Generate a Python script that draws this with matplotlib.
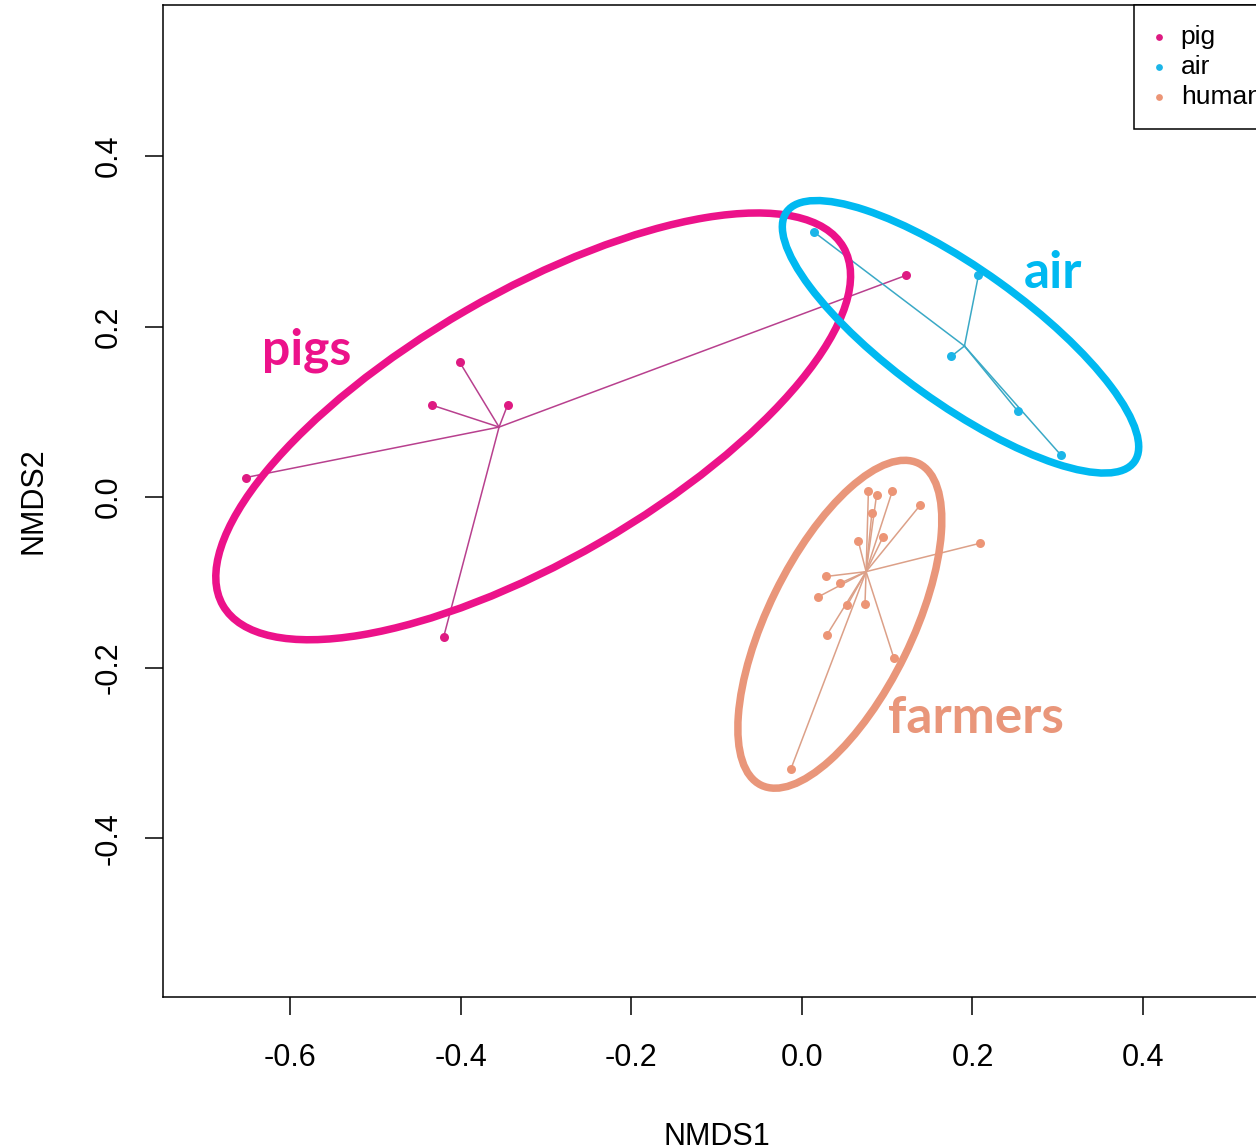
import matplotlib
matplotlib.use("Agg")
import matplotlib.pyplot as plt
from matplotlib.patches import Ellipse
import numpy as np

plt.rcParams['font.family'] = ['Liberation Sans', 'DejaVu Sans']
plt.rcParams['axes.unicode_minus'] = False

# --- data ---
pig_x = [-0.652, -0.434, -0.401, -0.345, -0.420, 0.122]
pig_y = [0.023, 0.108, 0.158, 0.108, -0.164, 0.260]

air_x = [0.014, 0.207, 0.175, 0.253, 0.304]
air_y = [0.311, 0.260, 0.165, 0.101, 0.049]

human_x = [0.078, 0.0875, 0.106, 0.139, 0.082, 0.066, 0.095, 0.209,
           0.028, 0.0445, 0.019, 0.053, 0.074, 0.029, 0.108, -0.013]
human_y = [0.007, 0.002, 0.007, -0.009, -0.019, -0.051, -0.047, -0.054,
           -0.093, -0.101, -0.117, -0.127, -0.125, -0.162, -0.189, -0.319]

group_labels = ["pig", "air", "human"]
annot_labels = ["pigs", "air", "farmers"]

# hand-drawn ellipses: centre x, centre y, width, height, angle
ell_pig = [-0.315, 0.083, 0.840, 0.314, 30.0]
ell_air = [0.186, 0.188, 0.502, 0.157, -35.7]
ell_human = [0.0445, -0.149, 0.420, 0.169, 63.9]

x_ticks = [-0.6, -0.4, -0.2, 0.0, 0.2, 0.4]
y_ticks = [-0.4, -0.2, 0.0, 0.2, 0.4]

# styles
pt_cols = ["#DE1A82", "#1BB5E8", "#EC9576"]
ln_cols = ["#B8408E", "#3AA9C6", "#DCA088"]
ell_cols = ["#EC128A", "#00B9F1", "#E9967A"]

W, H = 1256, 1148
fig = plt.figure(figsize=(W / 100, H / 100), dpi=100)
ax_l, ax_r, ax_t, ax_b = 163, 1271, 5, 997
ax = fig.add_axes([ax_l / W, (H - ax_b) / H, (ax_r - ax_l) / W, (ax_b - ax_t) / H])
ax.set_xlim(-0.749, 0.550)
ax.set_ylim(-0.586, 0.577)

groups = [(pig_x, pig_y), (air_x, air_y), (human_x, human_y)]
for (gx, gy), pc, lc, lab in zip(groups, pt_cols, ln_cols, group_labels):
    gx = np.asarray(gx); gy = np.asarray(gy)
    cx, cy = gx.mean(), gy.mean()
    for xi, yi in zip(gx, gy):
        ax.plot([cx, xi], [cy, yi], color=lc, lw=1.1, zorder=2)
    ax.scatter(gx, gy, s=42, color=pc, zorder=3, linewidths=0)
    ax.scatter([], [], s=24, color=pc, label=lab, linewidths=0)

for e, c in zip([ell_pig, ell_air, ell_human], ell_cols):
    ax.add_patch(Ellipse((e[0], e[1]), e[2], e[3], angle=e[4], fill=False,
                         edgecolor=c, lw=5.4, zorder=4))

# annotation labels
afont = ['Lato', 'DejaVu Sans']
ax.text(-0.633, 0.155, annot_labels[0], color=ell_cols[0], fontsize=36,
        fontweight='bold', family=afont, ha='left', va='baseline', zorder=5)
ax.text(0.260, 0.245, annot_labels[1], color=ell_cols[1], fontsize=37,
        fontweight='bold', family=afont, ha='left', va='baseline', zorder=5)
ax.text(0.101, -0.277, annot_labels[2], color=ell_cols[2], fontsize=37,
        fontweight='bold', family=afont, ha='left', va='baseline', zorder=5)

ax.set_xticks(x_ticks)
ax.set_xticklabels([f"{v:.1f}" for v in x_ticks])
ax.set_yticks(y_ticks)
ax.set_yticklabels([f"{v:.1f}" for v in y_ticks])
ax.tick_params(axis='both', direction='out', length=13, width=1.1,
               labelsize=22, colors='black')
ax.tick_params(axis='x', pad=20)
ax.tick_params(axis='y', pad=15, labelrotation=90)
for t in ax.get_yticklabels():
    t.set_va('center')

for s in ax.spines.values():
    s.set_linewidth(1.1)
    s.set_color('black')

ax.set_xlabel("NMDS1", fontsize=22)
ax.set_ylabel("NMDS2", fontsize=22)
ax.xaxis.set_label_coords(0.5, -0.126)
ax.yaxis.set_label_coords(-0.103, 0.5)

leg_x = (1134 - ax_l) / (ax_r - ax_l)
leg = ax.legend(loc='upper left', bbox_to_anchor=(leg_x, 1.0), borderaxespad=0,
                fontsize=19, frameon=True, fancybox=False, edgecolor='black',
                framealpha=1, handlelength=0.38, handletextpad=0.65,
                labelspacing=0.24, borderpad=0.74)
leg.get_frame().set_linewidth(1.1)

fig.savefig("out.png", dpi=100)
